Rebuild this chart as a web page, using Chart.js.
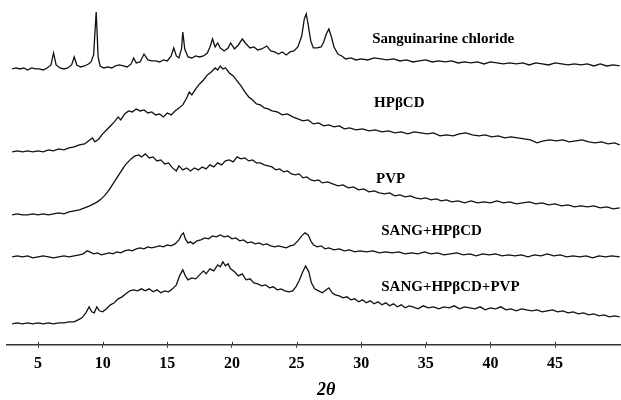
<!DOCTYPE html>
<html>
<head>
<meta charset="utf-8">
<title>XRD patterns</title>
<script src="https://cdn.jsdelivr.net/npm/chart.js@4.4.1/dist/chart.umd.min.js"></script>
<style>
  html, body { margin: 0; padding: 0; background: #fff; }
  #wrap { width: 621px; height: 400px; position: relative; }
</style>
</head>
<body>
<div id="wrap"><canvas id="xrdChart"></canvas></div>
<script>
// 2θ tick labels on the bottom axis
const xTicks = [5, 10, 15, 20, 25, 30, 35, 40, 45];

// sample names, top to bottom
const sampleNames = ['Sanguinarine chloride', 'HPβCD', 'PVP', 'SANG+HPβCD', 'SANG+HPβCD+PVP'];

// vertical stacking offset of each pattern (same order as sampleNames)
const stackOffsets = [276, 193, 130, 88, 21];

// diffraction patterns: [2θ, intensity above own baseline]
const sanguinarine = [
  [3.0,0],[3.3,1],[3.6,0],[3.9,1],[4.2,-1],[4.5,1],[4.8,0],[5.1,0],[5.4,-1],[5.7,1],[6.0,4],[6.2,16],[6.4,4],
  [6.7,1],[7.0,0],[7.3,1],[7.6,4],[7.8,12],[8.0,4],[8.3,2],[8.6,3],[8.9,5],[9.1,7],[9.3,14],[9.5,57],[9.65,12],
  [9.8,3],[10.1,1],[10.4,2],[10.7,1],[11.0,3],[11.3,4],[11.6,3],[11.9,2],[12.2,5],[12.4,11],[12.6,6],[12.9,7],
  [13.2,15],[13.5,9],[13.8,8],[14.1,8],[14.4,7],[14.7,9],[15.0,8],[15.3,13],[15.5,21],[15.7,13],[15.9,11],
  [16.1,20],[16.2,37],[16.35,20],[16.6,12],[16.9,11],[17.2,13],[17.5,12],[17.8,13],[18.1,16],[18.3,22],[18.5,30],
  [18.7,22],[18.9,26],[19.1,21],[19.4,18],[19.7,21],[19.9,26],[20.2,20],[20.5,24],[20.8,30],[21.1,25],[21.4,21],
  [21.7,22],[22.0,19],[22.3,20],[22.7,23],[23.0,18],[23.3,17],[23.6,15],[23.9,17],[24.2,14],[24.5,17],[24.8,18],
  [25.1,22],[25.4,33],[25.6,50],[25.75,55],[25.9,44],[26.1,28],[26.3,21],[26.6,21],[26.9,22],[27.1,27],[27.3,35],
  [27.5,40],[27.7,32],[27.9,22],[28.2,15],[28.5,13],[28.8,10],[29.2,11],[29.6,9],[30.0,10],[30.5,9],[31.0,11],
  [31.5,10],[32.0,9],[32.5,10],[33.0,8],[33.5,9],[34.0,7],[34.5,8],[35.0,9],[35.5,7],[36.0,8],[36.5,7],[37.0,8],
  [37.5,6],[38.0,7],[38.5,6],[39.0,7],[39.5,5],[40.0,7],[40.5,6],[41.0,5],[41.5,6],[42.0,5],[42.5,6],[43.0,4],
  [43.5,6],[44.0,5],[44.5,4],[45.0,6],[45.5,5],[46.0,4],[46.5,5],[47.0,4],[47.5,5],[48.0,3],[48.5,5],[49.0,3],
  [49.5,4],[50.0,3]
];

const hpbcd = [
  [3.0,0],[3.4,1],[3.8,0],[4.2,1],[4.6,0],[5.0,1],[5.4,0],[5.8,2],[6.2,1],[6.6,3],[7.0,2],[7.4,4],[7.8,5],
  [8.2,7],[8.6,8],[8.9,11],[9.2,14],[9.4,10],[9.7,13],[10.0,18],[10.3,22],[10.6,26],[10.9,30],[11.2,35],[11.4,32],
  [11.7,38],[12.0,41],[12.3,40],[12.6,43],[12.9,41],[13.2,42],[13.5,39],[13.8,40],[14.1,37],[14.4,38],[14.7,35],
  [15.0,39],[15.3,37],[15.6,41],[15.9,44],[16.2,47],[16.5,54],[16.7,60],[16.9,57],[17.2,63],[17.5,68],[17.8,72],
  [18.1,77],[18.4,80],[18.7,84],[18.9,82],[19.1,86],[19.3,83],[19.5,84],[19.8,79],[20.1,76],[20.4,71],[20.7,66],
  [21.0,60],[21.3,55],[21.6,52],[21.9,48],[22.2,47],[22.5,44],[22.8,43],[23.1,41],[23.5,40],[23.9,37],[24.3,38],
  [24.7,35],[25.1,33],[25.5,31],[25.9,32],[26.3,28],[26.7,29],[27.1,26],[27.5,27],[27.9,25],[28.3,26],[28.7,23],
  [29.1,24],[29.6,22],[30.1,23],[30.6,21],[31.1,22],[31.6,20],[32.1,21],[32.6,19],[33.1,20],[33.6,18],[34.1,20],
  [34.6,19],[35.1,18],[35.6,19],[36.1,16],[36.6,17],[37.1,16],[37.6,18],[38.1,19],[38.6,17],[39.1,16],[39.6,17],
  [40.1,15],[40.6,16],[41.1,14],[41.6,15],[42.1,14],[42.6,13],[43.1,12],[43.6,9],[44.1,11],[44.6,12],[45.1,11],
  [45.6,12],[46.1,10],[46.6,11],[47.1,12],[47.6,10],[48.1,9],[48.6,10],[49.1,8],[49.6,9],[50.0,7]
];

const pvp = [
  [3.0,0],[3.4,1],[3.8,0],[4.2,0],[4.6,1],[5.0,0],[5.4,1],[5.8,0],[6.2,1],[6.6,2],[7.0,1],[7.4,3],[7.8,4],
  [8.2,5],[8.6,7],[9.0,9],[9.3,11],[9.6,13],[9.9,16],[10.2,20],[10.5,25],[10.8,31],[11.1,37],[11.4,43],[11.7,49],
  [11.9,52],[12.2,56],[12.5,59],[12.8,60],[13.0,58],[13.3,61],[13.6,57],[13.9,58],[14.2,54],[14.5,55],[14.8,51],
  [15.1,52],[15.4,47],[15.7,44],[15.9,49],[16.2,45],[16.5,47],[16.8,44],[17.1,47],[17.4,45],[17.7,48],[18.0,46],
  [18.3,50],[18.6,48],[18.9,52],[19.2,50],[19.5,54],[19.8,55],[20.1,53],[20.4,58],[20.7,56],[21.0,57],[21.3,54],
  [21.6,55],[21.9,52],[22.2,52],[22.5,50],[22.8,49],[23.1,48],[23.4,45],[23.7,46],[24.0,43],[24.3,44],[24.6,41],
  [24.9,40],[25.2,41],[25.5,37],[25.8,38],[26.1,35],[26.4,34],[26.7,35],[27.0,32],[27.4,33],[27.8,31],[28.2,29],
  [28.6,30],[29.0,27],[29.4,28],[29.8,25],[30.2,26],[30.6,23],[31.0,24],[31.4,22],[31.8,21],[32.2,22],[32.6,19],
  [33.0,20],[33.4,18],[33.8,19],[34.2,17],[34.6,16],[35.0,17],[35.4,15],[35.8,16],[36.2,14],[36.6,15],[37.0,13],
  [37.5,14],[38.0,12],[38.5,14],[39.0,12],[39.5,13],[40.0,12],[40.5,14],[41.0,12],[41.5,13],[42.0,11],[42.5,12],
  [43.0,13],[43.5,11],[44.0,12],[44.5,10],[45.0,11],[45.5,9],[46.0,10],[46.5,8],[47.0,9],[47.5,8],[48.0,9],
  [48.5,7],[49.0,8],[49.5,6],[50.0,7]
];

const sangHpbcd = [
  [3.0,0],[3.4,1],[3.8,0],[4.2,1],[4.6,-1],[5.0,0],[5.4,1],[5.8,0],[6.2,-1],[6.6,0],[7.0,1],[7.4,0],[7.8,1],
  [8.2,2],[8.5,3],[8.8,6],[9.0,5],[9.3,3],[9.6,4],[9.9,2],[10.2,3],[10.5,4],[10.8,3],[11.1,5],[11.4,4],[11.7,6],
  [12.0,7],[12.3,6],[12.6,8],[12.9,9],[13.2,8],[13.5,10],[13.8,9],[14.1,10],[14.4,11],[14.7,10],[15.0,12],
  [15.3,11],[15.6,13],[15.9,17],[16.1,22],[16.25,24],[16.4,18],[16.6,14],[16.8,15],[17.0,13],[17.3,16],[17.6,17],
  [17.9,19],[18.2,18],[18.5,21],[18.8,20],[19.1,22],[19.4,20],[19.7,21],[20.0,18],[20.3,19],[20.6,16],[20.9,17],
  [21.2,14],[21.5,15],[21.8,13],[22.1,14],[22.4,12],[22.7,13],[23.0,11],[23.3,10],[23.6,11],[23.9,10],[24.2,9],
  [24.5,11],[24.8,12],[25.1,16],[25.4,21],[25.65,24],[25.9,22],[26.1,16],[26.3,12],[26.6,10],[26.9,11],[27.2,8],
  [27.5,9],[27.9,7],[28.3,8],[28.7,6],[29.1,7],[29.5,5],[29.9,6],[30.4,5],[30.9,6],[31.4,4],[31.9,5],[32.4,4],
  [32.9,5],[33.4,3],[33.9,4],[34.4,3],[34.9,5],[35.4,3],[35.9,4],[36.4,2],[36.9,3],[37.4,4],[37.9,2],[38.4,3],
  [38.9,1],[39.4,3],[39.9,2],[40.4,3],[40.9,1],[41.4,2],[41.9,1],[42.4,2],[42.9,0],[43.4,2],[43.9,1],[44.4,3],
  [44.9,1],[45.4,2],[45.9,0],[46.4,1],[46.9,0],[47.4,1],[47.9,-1],[48.4,1],[48.9,0],[49.4,1],[50.0,0]
];

const sangHpbcdPvp = [
  [3.0,0],[3.4,1],[3.8,0],[4.2,1],[4.6,0],[5.0,1],[5.4,0],[5.8,1],[6.2,0],[6.6,1],[7.0,1],[7.4,2],[7.8,2],
  [8.1,4],[8.4,6],[8.7,11],[8.95,17],[9.15,12],[9.35,11],[9.55,17],[9.75,13],[10.0,12],[10.3,15],[10.6,19],
  [10.9,21],[11.2,25],[11.5,27],[11.8,30],[12.1,33],[12.4,34],[12.7,33],[13.0,35],[13.3,33],[13.6,35],[13.9,32],
  [14.2,34],[14.5,31],[14.8,33],[15.1,32],[15.4,35],[15.7,39],[15.95,48],[16.2,54],[16.4,48],[16.6,44],[16.9,46],
  [17.2,45],[17.5,49],[17.8,53],[18.0,50],[18.3,55],[18.6,53],[18.9,59],[19.1,57],[19.3,62],[19.5,58],[19.7,60],
  [19.9,55],[20.2,52],[20.5,48],[20.8,50],[21.1,44],[21.4,45],[21.7,41],[22.0,40],[22.3,38],[22.6,39],[22.9,36],
  [23.2,37],[23.5,34],[23.8,35],[24.1,33],[24.4,32],[24.7,33],[24.95,37],[25.2,43],[25.45,51],[25.7,58],
  [25.95,52],[26.15,41],[26.4,35],[26.7,33],[27.0,31],[27.3,34],[27.5,36],[27.75,31],[28.0,29],[28.3,28],
  [28.6,26],[28.9,27],[29.2,24],[29.5,25],[29.8,22],[30.1,24],[30.4,21],[30.7,23],[31.0,20],[31.3,22],[31.6,19],
  [31.9,21],[32.2,18],[32.5,20],[32.8,17],[33.1,19],[33.4,16],[33.7,18],[34.0,17],[34.4,15],[34.8,18],[35.2,16],
  [35.6,17],[36.0,15],[36.4,17],[36.8,16],[37.2,18],[37.6,15],[38.0,17],[38.4,16],[38.8,15],[39.2,17],[39.6,14],
  [40.0,16],[40.4,15],[40.8,17],[41.2,14],[41.6,15],[42.0,13],[42.4,15],[42.8,14],[43.2,13],[43.6,14],[44.0,12],
  [44.4,13],[44.8,14],[45.2,12],[45.6,13],[46.0,11],[46.4,12],[46.8,10],[47.2,11],[47.6,9],[48.0,10],[48.4,8],
  [48.8,9],[49.2,7],[49.6,8],[50.0,7]
];

const patterns = [sanguinarine, hpbcd, pvp, sangHpbcd, sangHpbcdPvp];

// where each sample name sits (left edge in 2θ, height in stacked units)
const labelAnchors = [[30.85, 306], [31.0, 242], [31.15, 166], [31.55, 114], [31.55, 58]];

const serif = '"Liberation Serif", "Times New Roman", serif';

// names beside each trace, the 2θ caption and the upper half of each tick
const annotations = {
  id: 'annotations',
  afterDraw(chart) {
    const { ctx, scales: { x, y }, chartArea } = chart;
    ctx.save();
    ctx.strokeStyle = '#333';
    ctx.lineWidth = 1;
    xTicks.forEach(v => {
      const px = Math.round(x.getPixelForValue(v)) + 0.5;
      ctx.beginPath();
      ctx.moveTo(px, chartArea.bottom - 3);
      ctx.lineTo(px, chartArea.bottom);
      ctx.stroke();
    });

    ctx.fillStyle = '#000';
    ctx.font = 'bold 15px ' + serif;
    ctx.textAlign = 'left';
    ctx.textBaseline = 'middle';
    sampleNames.forEach((name, i) => {
      const [tx, ty] = labelAnchors[i];
      ctx.fillText(name, x.getPixelForValue(tx), y.getPixelForValue(ty));
    });

    ctx.font = 'italic bold 18px ' + serif;
    ctx.textAlign = 'center';
    ctx.fillText('2θ', x.getPixelForValue(27.3), chartArea.bottom + 46);
    ctx.restore();
  }
};

function buildChart() {
  const datasets = patterns.map((pts, i) => ({
    label: sampleNames[i],
    data: pts.map(([t, v]) => ({ x: t, y: stackOffsets[i] + v })),
    borderColor: '#111',
    borderWidth: 1.3,
    pointRadius: 0,
    tension: 0,
    fill: false
  }));

  new Chart(document.getElementById('xrdChart'), {
    type: 'line',
    data: { datasets },
    options: {
      responsive: true,
      maintainAspectRatio: false,
      animation: false,
      layout: { padding: { left: 7, right: 0, top: 0, bottom: 21 } },
      plugins: {
        legend: { display: false },
        tooltip: { enabled: false }
      },
      scales: {
        x: {
          type: 'linear',
          min: 2.6,
          max: 50.1,
          afterBuildTicks: (scale) => {
            scale.ticks = xTicks.map(v => ({ value: v }));
          },
          grid: { drawOnChartArea: false, drawTicks: true, tickLength: 3, color: '#333' },
          border: { display: true, color: '#333', width: 1.5 },
          ticks: {
            color: '#000',
            padding: 6,
            maxRotation: 0,
            font: { family: serif, size: 16, weight: 'bold' }
          }
        },
        y: {
          display: false,
          min: 0,
          max: 345
        }
      }
    },
    plugins: [annotations]
  });
}

buildChart();
</script>
</body>
</html>
